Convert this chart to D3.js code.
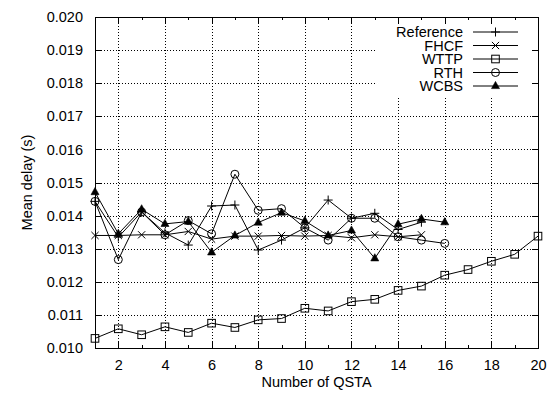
<!DOCTYPE html>
<html>
<head>
<meta charset="utf-8">
<script src="https://cdn.jsdelivr.net/npm/d3@7/dist/d3.min.js"></script>
<style>
  html, body { margin: 0; padding: 0; background: #fff; }
  svg { display: block; font-family: "Liberation Sans", Arial, Helvetica, sans-serif; }
</style>
</head>
<body>
<svg id="chart" width="547" height="394"></svg>
<script>
// Mean delay per number of QSTAs, one array per scheme
const qsta = [1, 2, 3, 4, 5, 6, 7, 8, 9, 10, 11, 12, 13, 14, 15, 16, 17, 18, 19, 20];
const reference = [0.01443, 0.01335, 0.01411, 0.01348, 0.01311, 0.01429, 0.01432, 0.01296, 0.01326, 0.01363, 0.01447, 0.01392, 0.01407, 0.01358, 0.01380];
const fhcf = [0.01340, 0.01340, 0.01342, 0.01342, 0.01352, 0.01329, 0.01338, 0.01338, 0.01340, 0.01338, 0.01340, 0.01333, 0.01342, 0.01336, 0.01342];
const wttp = [0.01029, 0.01058, 0.01040, 0.01064, 0.01047, 0.01075, 0.01062, 0.01085, 0.01089, 0.01120, 0.01112, 0.01140, 0.01147, 0.01174, 0.01187, 0.01220, 0.01237, 0.01262, 0.01283, 0.01338];
const rth = [0.01443, 0.01267, 0.01411, 0.01342, 0.01385, 0.01345, 0.01525, 0.01416, 0.01421, 0.01363, 0.01326, 0.01392, 0.01392, 0.01336, 0.01326, 0.01316];
const wcbs = [0.01471, 0.01345, 0.01419, 0.01375, 0.01382, 0.01289, 0.01340, 0.01379, 0.01409, 0.01384, 0.01340, 0.01355, 0.01271, 0.01374, 0.01390, 0.01380];

const xTickLabels = [2, 4, 6, 8, 10, 12, 14, 16, 18, 20];
const yTickLabels = ["0.010", "0.011", "0.012", "0.013", "0.014", "0.015", "0.016", "0.017", "0.018", "0.019", "0.020"];

const seriesNames = ["Reference", "FHCF", "WTTP", "RTH", "WCBS"];
const seriesValues = [reference, fhcf, wttp, rth, wcbs];
const seriesMarkers = ["plus", "cross", "square", "circle", "triangle"];

const svg = d3.select("#chart");
const plot = { left: 95, right: 538, top: 17, bottom: 348 };

const x = d3.scaleLinear().domain([1, 20]).range([plot.left, plot.right]);
const y = d3.scaleLinear().domain([0.010, 0.020]).range([plot.bottom, plot.top]);
const yTicks = yTickLabels.map(Number);

// dotted grid
const grid = svg.append("g").attr("stroke", "#000").attr("stroke-width", 1)
  .attr("stroke-dasharray", "1,2").attr("shape-rendering", "crispEdges");
grid.selectAll("line.v").data(xTickLabels.filter(d => d < 20)).enter().append("line")
  .attr("x1", d => Math.round(x(d)) + 0.5).attr("x2", d => Math.round(x(d)) + 0.5)
  .attr("y1", plot.top).attr("y2", plot.bottom);
grid.selectAll("line.h").data(yTicks.slice(1, -1)).enter().append("line")
  .attr("y1", d => Math.round(y(d)) + 0.5).attr("y2", d => Math.round(y(d)) + 0.5)
  .attr("x1", plot.left).attr("x2", plot.right);

// legend area hides the grid behind it
svg.append("rect").attr("x", 377).attr("y", 24).attr("width", plot.right - 377).attr("height", 72)
  .attr("fill", "#fff");

// axes with inward ticks
const axisG = svg.append("g").attr("shape-rendering", "crispEdges");
const majorX = xTickLabels;
const minorX = qsta.filter(d => d % 2 === 1);

function tickLines(g, data, pos, len, side) {
  g.selectAll(null).data(data).enter().append("line")
    .attr("stroke", "#000").attr("stroke-width", 1)
    .each(function (d) {
      const s = d3.select(this);
      const p = Math.round(pos(d)) + 0.5;
      if (side === "bottom") s.attr("x1", p).attr("x2", p).attr("y1", plot.bottom).attr("y2", plot.bottom - len);
      if (side === "top") s.attr("x1", p).attr("x2", p).attr("y1", plot.top).attr("y2", plot.top + len);
      if (side === "left") s.attr("y1", p).attr("y2", p).attr("x1", plot.left).attr("x2", plot.left + len);
      if (side === "right") s.attr("y1", p).attr("y2", p).attr("x1", plot.right).attr("x2", plot.right - len);
    });
}
tickLines(axisG, majorX, x, 6, "bottom");
tickLines(axisG, majorX, x, 6, "top");
tickLines(axisG, minorX, x, 3, "bottom");
tickLines(axisG, minorX, x, 3, "top");
tickLines(axisG, yTicks, y, 6, "left");
tickLines(axisG, yTicks, y, 6, "right");

// tick labels via d3 axes (tick lines hidden, drawn above)
const xAxis = d3.axisBottom(x).tickValues(majorX).tickSize(0).tickPadding(12).tickFormat(d3.format("d"));
svg.append("g").attr("transform", `translate(0,${plot.bottom})`).call(xAxis)
  .call(g => g.select(".domain").remove())
  .selectAll("text").attr("font-size", 14.5).attr("fill", "#000").attr("font-family", "Liberation Sans, Arial, sans-serif");

const yAxis = d3.axisLeft(y).tickValues(yTicks).tickSize(0).tickPadding(12).tickFormat((d, i) => yTickLabels[i]);
svg.append("g").attr("transform", `translate(${plot.left},0)`).call(yAxis)
  .call(g => g.select(".domain").remove())
  .selectAll("text").attr("font-size", 14.5).attr("fill", "#000").attr("font-family", "Liberation Sans, Arial, sans-serif");

// frame
svg.append("rect").attr("x", plot.left + 0.5).attr("y", plot.top + 0.5)
  .attr("width", plot.right - plot.left).attr("height", plot.bottom - plot.top)
  .attr("fill", "none").attr("stroke", "#000").attr("stroke-width", 1).attr("shape-rendering", "crispEdges");

// axis titles
svg.append("text").attr("x", (plot.left + plot.right) / 2).attr("y", 387)
  .attr("text-anchor", "middle").attr("font-size", 14.5).text("Number of QSTA");
svg.append("text").attr("transform", `translate(27,${(plot.top + plot.bottom) / 2}) rotate(-90)`)
  .attr("text-anchor", "middle").attr("dy", "0.35em").attr("font-size", 14.5).text("Mean delay (s)");

// marker shapes
function drawMarker(g, type, cx, cy) {
  const s = 4.5;
  if (type === "plus") {
    g.append("path").attr("d", `M${cx - s},${cy}H${cx + s}M${cx},${cy - s}V${cy + s}`)
      .attr("stroke", "#000").attr("stroke-width", 1).attr("fill", "none");
  } else if (type === "cross") {
    const c = 3.6;
    g.append("path").attr("d", `M${cx - c},${cy - c}L${cx + c},${cy + c}M${cx - c},${cy + c}L${cx + c},${cy - c}`)
      .attr("stroke", "#000").attr("stroke-width", 1).attr("fill", "none");
  } else if (type === "square") {
    g.append("rect").attr("x", cx - 3.8).attr("y", cy - 3.8).attr("width", 7.6).attr("height", 7.6)
      .attr("stroke", "#000").attr("stroke-width", 1).attr("fill", "none");
  } else if (type === "circle") {
    g.append("circle").attr("cx", cx).attr("cy", cy).attr("r", 4)
      .attr("stroke", "#000").attr("stroke-width", 1).attr("fill", "none");
  } else if (type === "triangle") {
    g.append("path").attr("d", `M${cx},${cy - 4.6}L${cx + 4},${cy + 2.6}L${cx - 4},${cy + 2.6}Z`)
      .attr("fill", "#000").attr("stroke", "#000").attr("stroke-width", 0.6);
  }
}

// series lines and markers
const line = d3.line().x((d, i) => x(qsta[i])).y(d => y(d));
const dataG = svg.append("g");
seriesValues.forEach((vals, k) => {
  dataG.append("path").datum(vals).attr("d", line)
    .attr("fill", "none").attr("stroke", "#000").attr("stroke-width", 1);
  const mg = dataG.append("g");
  vals.forEach((v, i) => drawMarker(mg, seriesMarkers[k], x(qsta[i]), y(v)));
});

// legend
const legend = svg.append("g");
seriesNames.forEach((name, k) => {
  const ly = 32 + k * 13.5;
  legend.append("text").attr("x", 463).attr("y", ly).attr("dy", "0.35em")
    .attr("text-anchor", "end").attr("font-size", 14.5).text(name);
  legend.append("line").attr("x1", 473).attr("x2", 518).attr("y1", ly).attr("y2", ly)
    .attr("stroke", "#000").attr("stroke-width", 1);
  drawMarker(legend, seriesMarkers[k], 495.5, ly);
});
</script>
</body>
</html>
